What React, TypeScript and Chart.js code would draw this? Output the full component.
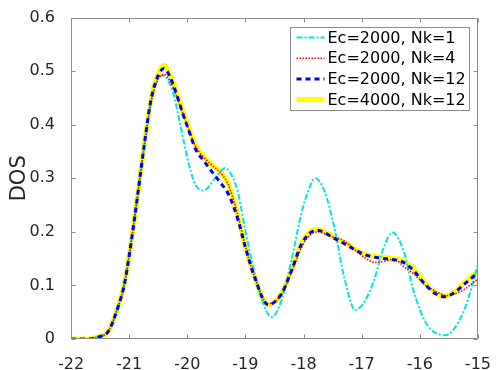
import { useEffect, useRef } from "react";
import { Chart, registerables } from "chart.js";

Chart.register(...registerables);

// Axis ticks
const energyTicks = [-22, -21, -20, -19, -18, -17, -16, -15];
const dosTicks = [0, 0.1, 0.2, 0.3, 0.4, 0.5, 0.6];

const seriesLabels = ["Ec=2000, Nk=1", "Ec=2000, Nk=4", "Ec=2000, Nk=12", "Ec=4000, Nk=12"];

// Ec=2000, Nk=1
const energyNk1 = [-22, -21.7, -21.53, -21.36, -21.19, -21.08, -21.0, -20.92, -20.87, -20.74, -20.63, -20.51, -20.42, -20.3, -20.23, -20.14, -20.06, -19.97, -19.86, -19.72, -19.52, -19.35, -19.21, -19.12, -19.01, -18.84, -18.67, -18.55, -18.38, -18.21, -18.04, -17.9, -17.8, -17.64, -17.47, -17.3, -17.11, -16.95, -16.79, -16.62, -16.47, -16.28, -16.11, -15.89, -15.56, -15.26, -15.09, -15.0];
const dosNk1 = [0, 0, 0.004, 0.014, 0.06, 0.103, 0.155, 0.215, 0.255, 0.36, 0.44, 0.485, 0.492, 0.476, 0.455, 0.41, 0.369, 0.325, 0.288, 0.277, 0.3, 0.319, 0.3, 0.27, 0.208, 0.122, 0.06, 0.041, 0.072, 0.146, 0.233, 0.282, 0.3, 0.276, 0.208, 0.115, 0.054, 0.07, 0.109, 0.171, 0.199, 0.165, 0.091, 0.029, 0.007, 0.048, 0.103, 0.14];

// Ec=2000, Nk=4
const energyNk4 = [-22, -21.7, -21.53, -21.36, -21.19, -21.08, -21.0, -20.92, -20.87, -20.74, -20.63, -20.51, -20.4, -20.3, -20.2, -20.09, -19.97, -19.86, -19.72, -19.58, -19.41, -19.29, -19.12, -19.01, -18.84, -18.61, -18.38, -18.21, -18.04, -17.9, -17.75, -17.54, -17.3, -17.1, -16.95, -16.77, -16.6, -16.45, -16.25, -16.11, -15.9, -15.71, -15.54, -15.4, -15.26, -15.0];
const dosNk4 = [0, 0, 0.004, 0.014, 0.06, 0.103, 0.155, 0.215, 0.255, 0.36, 0.438, 0.483, 0.494, 0.482, 0.458, 0.425, 0.39, 0.36, 0.34, 0.325, 0.308, 0.287, 0.227, 0.177, 0.115, 0.066, 0.083, 0.124, 0.17, 0.193, 0.2, 0.192, 0.183, 0.165, 0.152, 0.143, 0.145, 0.149, 0.133, 0.122, 0.1, 0.088, 0.081, 0.084, 0.091, 0.112];

// Ec=2000, Nk=12
const energyNk12 = [-22, -21.7, -21.53, -21.36, -21.19, -21.08, -21.0, -20.92, -20.87, -20.74, -20.63, -20.51, -20.4, -20.3, -20.2, -20.09, -19.97, -19.86, -19.72, -19.58, -19.46, -19.29, -19.12, -19.01, -18.84, -18.61, -18.38, -18.21, -18.04, -17.9, -17.77, -17.47, -17.25, -16.96, -16.69, -16.45, -16.28, -16.1, -15.94, -15.75, -15.57, -15.4, -15.26, -15.0];
const dosNk12 = [0, 0, 0.004, 0.014, 0.06, 0.103, 0.155, 0.215, 0.255, 0.362, 0.443, 0.49, 0.505, 0.49, 0.462, 0.425, 0.388, 0.355, 0.333, 0.313, 0.296, 0.27, 0.22, 0.175, 0.115, 0.064, 0.084, 0.127, 0.176, 0.197, 0.203, 0.188, 0.175, 0.158, 0.151, 0.148, 0.143, 0.127, 0.106, 0.086, 0.079, 0.087, 0.1, 0.124];

// Ec=4000, Nk=12
const energyEc4000 = [-22, -21.7, -21.53, -21.36, -21.19, -21.08, -21.0, -20.92, -20.87, -20.74, -20.63, -20.51, -20.4, -20.3, -20.2, -20.09, -19.97, -19.86, -19.72, -19.58, -19.41, -19.29, -19.12, -19.01, -18.84, -18.61, -18.38, -18.21, -18.04, -17.9, -17.76, -17.47, -17.25, -16.96, -16.69, -16.45, -16.28, -16.1, -15.94, -15.75, -15.57, -15.4, -15.26, -15.0];
const dosEc4000 = [0, 0, 0.004, 0.014, 0.06, 0.103, 0.155, 0.215, 0.255, 0.362, 0.443, 0.492, 0.511, 0.495, 0.467, 0.43, 0.393, 0.362, 0.341, 0.325, 0.31, 0.288, 0.227, 0.177, 0.115, 0.064, 0.085, 0.128, 0.177, 0.199, 0.205, 0.19, 0.177, 0.159, 0.153, 0.15, 0.146, 0.13, 0.109, 0.088, 0.08, 0.088, 0.103, 0.126];

const FONT = "'DejaVu Sans', 'Liberation Sans', Arial, sans-serif";
const AXIS_COLOR = "#8c8c8c";
const TEXT_COLOR = "#262626";

const toPoints = (xs: number[], ys: number[]) => xs.map((x, i) => ({ x, y: ys[i] }));

// Box around the axes with inward tick marks, plus a boxed legend in the top-right corner
const axesBoxPlugin = {
  id: "axesBox",
  afterDatasetsDraw(chart: any) {
    const { ctx, chartArea: a, scales } = chart;
    const L = Math.round(a.left) + 0.5;
    const R = Math.round(a.right) - 0.5;
    const T = Math.round(a.top) + 0.5;
    const B = Math.round(a.bottom) - 0.5;
    const tick = 4;
    ctx.save();
    ctx.strokeStyle = AXIS_COLOR;
    ctx.lineWidth = 1;
    ctx.setLineDash([]);
    ctx.beginPath();
    ctx.rect(L, T, R - L, B - T);
    for (const v of energyTicks) {
      const px = Math.round(scales.x.getPixelForValue(v)) + 0.5;
      ctx.moveTo(px, B);
      ctx.lineTo(px, B - tick);
      ctx.moveTo(px, T);
      ctx.lineTo(px, T + tick);
    }
    for (const v of dosTicks) {
      const py = Math.round(scales.y.getPixelForValue(v)) + 0.5;
      ctx.moveTo(L, py);
      ctx.lineTo(L + tick, py);
      ctx.moveTo(R, py);
      ctx.lineTo(R - tick, py);
    }
    ctx.stroke();
    ctx.restore();
  },
  afterDraw(chart: any) {
    const { ctx, chartArea: a } = chart;
    const datasets = chart.data.datasets;
    ctx.save();
    ctx.font = `16px ${FONT}`;
    let textW = 0;
    for (const ds of datasets) textW = Math.max(textW, ctx.measureText(ds.label).width);
    const rowH = 20.7;
    const sampleW = 28;
    const w = Math.ceil(6 + sampleW + 3 + textW + 3);
    const h = Math.round(datasets.length * rowH + 0.5);
    const x0 = Math.round(a.right - 9 - w) + 0.5;
    const y0 = Math.round(a.top + 9) + 0.5;
    ctx.fillStyle = "#ffffff";
    ctx.fillRect(x0, y0, w, h);
    ctx.strokeStyle = AXIS_COLOR;
    ctx.lineWidth = 1;
    ctx.strokeRect(x0, y0, w, h);
    datasets.forEach((ds: any, i: number) => {
      const cy = y0 + 10 + i * rowH;
      ctx.save();
      ctx.strokeStyle = ds.borderColor;
      ctx.lineWidth = ds.borderWidth;
      ctx.setLineDash(ds.borderDash || []);
      ctx.beginPath();
      ctx.moveTo(x0 + 6, cy);
      ctx.lineTo(x0 + 6 + sampleW, cy);
      ctx.stroke();
      ctx.restore();
      ctx.fillStyle = "#000000";
      ctx.textBaseline = "middle";
      ctx.textAlign = "left";
      ctx.fillText(ds.label, x0 + 6 + sampleW + 3, cy + 1);
    });
    ctx.restore();
  },
};

export default function App() {
  const canvasRef = useRef<HTMLCanvasElement>(null);

  useEffect(() => {
    const canvas = canvasRef.current;
    if (!canvas) return;
    const chart = new Chart(canvas, {
      type: "line",
      data: {
        datasets: [
          {
            label: seriesLabels[0],
            data: toPoints(energyNk1, dosNk1),
            borderColor: "#00e5e5",
            borderWidth: 2,
            borderDash: [6, 2, 2, 2],
            order: 2,
          },
          {
            label: seriesLabels[1],
            data: toPoints(energyNk4, dosNk4),
            borderColor: "#ff0000",
            borderWidth: 1.6,
            borderDash: [1.5, 1.5],
            order: 1,
          },
          {
            label: seriesLabels[2],
            data: toPoints(energyNk12, dosNk12),
            borderColor: "#0000ff",
            borderWidth: 3,
            borderDash: [5, 4],
            order: 0,
          },
          {
            label: seriesLabels[3],
            data: toPoints(energyEc4000, dosEc4000),
            borderColor: "#ffff00",
            borderWidth: 5,
            order: 3,
          },
        ] as any,
      },
      options: {
        responsive: false,
        animation: false,
        devicePixelRatio: 1,
        parsing: false as any,
        layout: { padding: { left: 0, top: 15, right: 17, bottom: 0 } },
        elements: {
          point: { radius: 0, hoverRadius: 0 },
          line: { cubicInterpolationMode: "monotone", fill: false, borderCapStyle: "butt" },
        },
        plugins: {
          legend: { display: false },
          tooltip: { enabled: false },
        },
        scales: {
          x: {
            type: "linear",
            min: -22,
            max: -15,
            grid: { display: false },
            border: { display: false },
            afterBuildTicks: (s: any) => {
              s.ticks = energyTicks.map((value) => ({ value }));
            },
            afterFit: (s: any) => {
              s.height = 31;
            },
            ticks: {
              autoSkip: false,
              maxRotation: 0,
              padding: 8,
              color: TEXT_COLOR,
              font: { family: FONT, size: 16 },
              callback: (v: any) => String(v),
            },
          },
          y: {
            type: "linear",
            min: 0,
            max: 0.6,
            grid: { display: false },
            border: { display: false },
            afterBuildTicks: (s: any) => {
              s.ticks = dosTicks.map((value) => ({ value }));
            },
            afterFit: (s: any) => {
              s.width = 71;
            },
            ticks: {
              autoSkip: false,
              padding: 8,
              color: TEXT_COLOR,
              font: { family: FONT, size: 16 },
              callback: (v: any) => String(v),
            },
            title: {
              display: true,
              text: "DOS",
              color: TEXT_COLOR,
              font: { family: FONT, size: 21 },
              padding: { top: 7, bottom: 0 },
            },
          },
        },
      } as any,
      plugins: [axesBoxPlugin],
    });
    return () => chart.destroy();
  }, []);

  return (
    <div style={{ position: "absolute", left: 0, top: 0, width: 499, height: 370, background: "#ffffff" }}>
      <canvas ref={canvasRef} width={499} height={370} style={{ display: "block", width: 499, height: 370 }} />
    </div>
  );
}
